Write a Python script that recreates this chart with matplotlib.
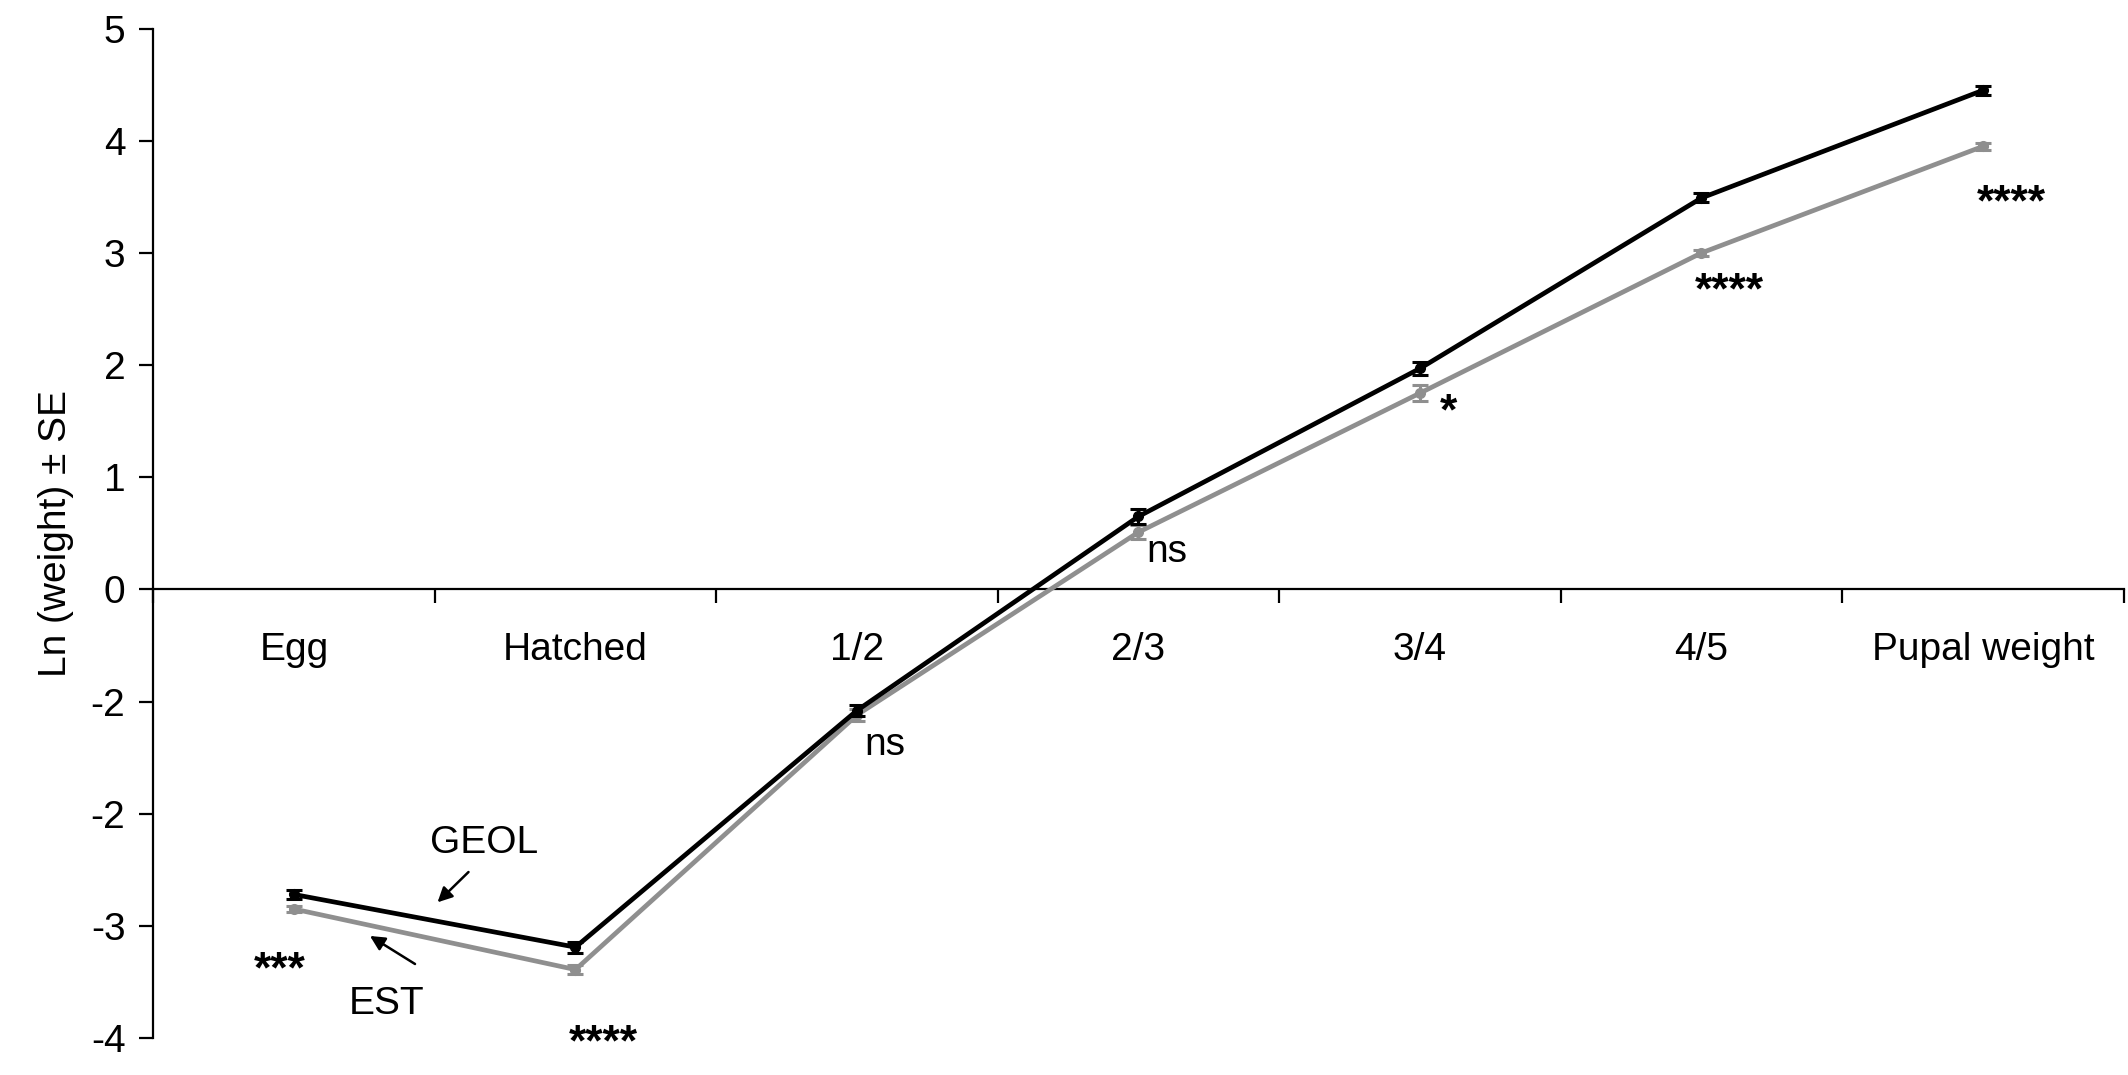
import numpy as np
import matplotlib
matplotlib.use('Agg')
import matplotlib.pyplot as plt

plt.rcParams['font.family'] = ['Liberation Sans', 'DejaVu Sans']

# stages and values (ln weight)
stages = ['Egg', 'Hatched', '1/2', '2/3', '3/4', '4/5', 'Pupal weight']
geol = [-2.72, -3.19, -1.08, 0.65, 1.97, 3.49, 4.45]
geol_se = [0.04, 0.05, 0.05, 0.07, 0.06, 0.04, 0.04]
est = [-2.85, -3.39, -1.12, 0.51, 1.75, 3.00, 3.95]
est_se = [0.03, 0.04, 0.05, 0.06, 0.07, 0.03, 0.03]
signif = ['***', '****', 'ns', 'ns', '*', '****', '****']
signif_y = [-3.35, -4.0, -1.39, 0.33, 1.62, 2.70, 3.49]
ytick_vals = [-4, -3, -2, -1, 0, 1, 2, 3, 4, 5]
ytick_labels = ['-4', '-3', '-2', '-2', '0', '1', '2', '3', '4', '5']

fig = plt.figure(figsize=(21.28, 10.75), dpi=100)
ax = fig.add_axes([0.072, 0.0344, 0.926, 0.939])

x = np.arange(len(stages))
ax.errorbar(x, est, yerr=est_se, color='#8f8f8f', lw=3.4, marker='o', ms=7,
            capsize=6, capthick=2.2, elinewidth=2.2, zorder=3)
ax.errorbar(x, geol, yerr=geol_se, color='black', lw=3.4, marker='o', ms=7,
            capsize=6, capthick=2.2, elinewidth=2.2, zorder=4)

ax.set_xlim(-0.5, len(stages) - 0.5)
ax.set_ylim(-4, 5)

for s in ['top', 'right']:
    ax.spines[s].set_visible(False)
ax.spines['bottom'].set_position(('data', 0))
ax.spines['bottom'].set_linewidth(1.6)
ax.spines['left'].set_linewidth(1.6)

# ticks at boundaries, labels at centers
ax.set_xticks(np.arange(len(stages) + 1) - 0.5)
ax.set_xticklabels([])
ax.set_xticks(x, minor=True)
ax.set_xticklabels(stages, minor=True)
ax.tick_params(axis='x', which='major', direction='out', length=10, width=1.6)
ax.tick_params(axis='x', which='minor', length=0, pad=31, labelsize=28)

ax.set_yticks(ytick_vals)
ax.set_yticklabels(ytick_labels)
ax.tick_params(axis='y', direction='out', length=10, width=1.6, labelsize=28, pad=10)

ax.set_ylabel('Ln (weight) \u00b1 SE', fontsize=28, labelpad=12)

for xi, lab, yy in zip(x, signif, signif_y):
    dx = -0.05 if lab == '***' else 0.1
    if lab == 'ns':
        ax.text(xi + dx, yy, lab, fontsize=28, ha='center', va='center')
    else:
        ax.text(xi + dx, yy - 0.05, lab, fontsize=32, fontweight='bold',
                ha='center', va='center')

ax.text(0.675, -2.26, 'GEOL', fontsize=28, ha='center', va='center')
ax.text(0.33, -3.70, 'EST', fontsize=28, ha='center', va='center')
ax.annotate('', xy=(0.51, -2.79), xytext=(0.62, -2.52),
            arrowprops=dict(arrowstyle='-|>', color='black', lw=1.8,
                            mutation_scale=22, shrinkA=0, shrinkB=0))
ax.annotate('', xy=(0.27, -3.09), xytext=(0.43, -3.34),
            arrowprops=dict(arrowstyle='-|>', color='black', lw=1.8,
                            mutation_scale=22, shrinkA=0, shrinkB=0))

fig.savefig('out.png', dpi=100)
